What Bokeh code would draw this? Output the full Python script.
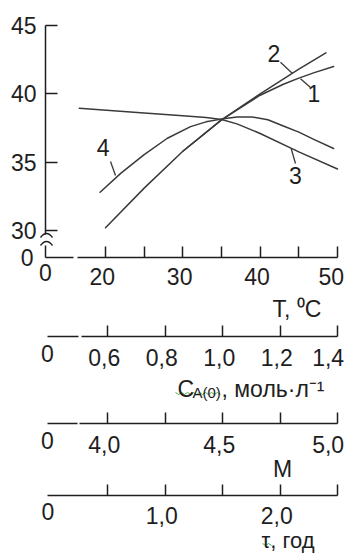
from bokeh.plotting import figure
from bokeh.models import Range1d, LinearAxis, FixedTicker, Label
from bokeh.embed import file_html
from bokeh.resources import INLINE

# ---------------- data ----------------
T_curve1 = [30, 35, 40, 43, 45, 47, 49.5]
Y_curve1 = [35.8, 38.1, 39.9, 40.7, 41.15, 41.55, 42.0]
T_curve2 = [20, 25, 30, 35, 40, 45, 48.5]
Y_curve2 = [30.2, 33.1, 35.8, 38.1, 40.0, 41.8, 43.0]
T_curve3 = [16.6, 25, 30, 33, 35, 37, 40, 45, 50]
Y_curve3 = [38.95, 38.6, 38.4, 38.27, 38.12, 37.8, 37.1, 35.75, 34.5]
T_curve4 = [19.3, 22, 25, 28, 31, 33, 35, 37, 39, 41, 43, 45, 47, 49.5]
Y_curve4 = [32.8, 34.2, 35.55, 36.75, 37.6, 37.95, 38.15, 38.3, 38.3, 38.1, 37.65, 37.2, 36.65, 36.0]
curve_names = ["1", "2", "3", "4"]

y_ticks = [30, 35, 40, 45]
T_ticks = [20, 30, 40, 50]
T_minor = [25, 35, 45]
T_labels = ["20", "30", "40", "50"]
C_ticks = [0.6, 0.8, 1.0, 1.2, 1.4]
C_labels = ["0,6", "0,8", "1,0", "1,2", "1,4"]
M_ticks = [4.0, 4.5, 5.0]
M_minor = [4.25, 4.75]
M_labels = ["4,0", "4,5", "5,0"]
tau_ticks = [1.0, 2.0]
tau_minor = [0.5, 1.5, 2.5]
tau_labels = ["1,0", "2,0"]

# ---------------- layout helpers (page pixels -> data) ----------------
FONT = "Liberation Sans"
FS = "23px"
INK = "#1e1e1e"
CURVE = "#3a3a3a"
NB = "\u00a0"


def T_of(px):
    return 20 + (px - 105) * 30 / (337 - 105)


def Y_of(py):
    return 45 - (py - 25) * 15 / (230 - 25)


def C_of(px):
    return 1.4 - (337 - px) * 0.8 / (337 - 107)


def M_of(px):
    return 5.0 - (337 - px) * 1.0 / (337 - 107)


def tau_of(px):
    return 2.5 - (337 - px) * 2.0 / (337 - 107)


W, H = 350, 554
FL, FR, FT, FB = 0, W, 0, H

p = figure(width=W, height=H,
           x_range=Range1d(T_of(FL), T_of(FR)), y_range=Range1d(Y_of(FB), Y_of(FT)),
           x_axis_location=None, y_axis_location=None,
           toolbar_location=None, output_backend="svg",
           min_border_left=0, min_border_right=0, min_border_top=0, min_border_bottom=0)
p.outline_line_color = None
p.grid.grid_line_color = None
p.background_fill_color = "white"
p.extra_x_ranges = {"c": Range1d(C_of(FL), C_of(FR)),
                    "m": Range1d(M_of(FL), M_of(FR)),
                    "tau": Range1d(tau_of(FL), tau_of(FR))}


def axis(ticks, minor=None, overrides=None, fixed=None, bounds=None,
         range_name="default", standoff=8, tick_len=11):
    ax = LinearAxis(fixed_location=fixed, bounds=bounds,
                    ticker=FixedTicker(ticks=ticks, minor_ticks=minor or []))
    ax.x_range_name = range_name
    ax.axis_line_color = INK
    ax.axis_line_width = 1.5
    ax.major_tick_in = tick_len
    ax.major_tick_out = 0
    ax.minor_tick_in = tick_len
    ax.minor_tick_out = 0
    ax.major_tick_line_color = INK
    ax.minor_tick_line_color = INK
    ax.major_tick_line_width = 1.5
    ax.minor_tick_line_width = 1.5
    ax.major_label_text_font = FONT
    ax.major_label_text_font_size = FS
    ax.major_label_text_color = INK
    ax.major_label_standoff = standoff
    if overrides:
        ax.major_label_overrides = overrides
    return ax


def ov(ticks, labels):
    return {t: l + NB for t, l in zip(ticks, labels)}


# y axis (with break)
ya = axis(y_ticks, fixed=T_of(45), bounds=(Y_of(234), 45), standoff=9, tick_len=12)
p.add_layout(ya, "left")
p.add_layout(axis([], fixed=T_of(45), bounds=(Y_of(257), Y_of(245))), "left")

# T axis
ta = axis(T_ticks, T_minor, overrides=ov(T_ticks, T_labels), fixed=Y_of(257),
          bounds=(T_of(77), 50), standoff=6)
p.add_layout(ta, "below")
p.add_layout(axis([], fixed=Y_of(257), bounds=(T_of(45), T_of(73))), "below")

# C_A(0) axis
ca = axis(C_ticks, overrides=ov(C_ticks, C_labels), fixed=Y_of(336),
          bounds=(C_of(81), 1.4), range_name="c", standoff=8)
p.add_layout(ca, "below")
p.add_layout(axis([], fixed=Y_of(336), bounds=(C_of(47), C_of(78)), range_name="c"), "below")

# M axis
ma = axis(M_ticks, M_minor, overrides=ov(M_ticks, M_labels), fixed=Y_of(423),
          bounds=(M_of(79), 5.0), range_name="m", standoff=8)
p.add_layout(ma, "below")
p.add_layout(axis([], fixed=Y_of(423), bounds=(M_of(47), M_of(77)), range_name="m"), "below")

# tau axis
tau_ax = axis(tau_ticks, tau_minor, overrides=ov(tau_ticks, tau_labels), fixed=Y_of(495),
              bounds=(tau_of(47), 2.5), range_name="tau", standoff=7)
p.add_layout(tau_ax, "below")

# ---------------- curves ----------------
for xs, ys in [(T_curve1, Y_curve1), (T_curve2, Y_curve2), (T_curve3, Y_curve3), (T_curve4, Y_curve4)]:
    p.line(xs, ys, line_color=CURVE, line_width=1.5, line_join="round", line_cap="round")

# leader lines for curve numbers (page px)
lead_x0 = [300, 280, 290.7, 110]
lead_y0 = [78.3, 61.7, 148.3, 161]
lead_x1 = [310, 291.7, 295, 115]
lead_y1 = [87, 72.7, 163, 175]
p.segment([T_of(v) for v in lead_x0], [Y_of(v) for v in lead_y0],
          [T_of(v) for v in lead_x1], [Y_of(v) for v in lead_y1],
          line_color=CURVE, line_width=1.3)
name_px = [313.3, 273.3, 295, 102.7]
name_py = [93.3, 53.3, 175, 146.7]
for t, px, py in zip(curve_names, name_px, name_py):
    p.add_layout(Label(x=T_of(px), y=Y_of(py), text=t, text_align="center", text_baseline="middle",
                       text_font=FONT, text_font_size=FS, text_color=INK))

# axis break marks on the y axis
p.quadratic([T_of(40), T_of(40)], [Y_of(237), Y_of(245)], [T_of(52), T_of(52)], [Y_of(237), Y_of(245)],
            [T_of(46), T_of(46)], [Y_of(229), Y_of(237)], line_color=INK, line_width=1.3)

# spell-check style squiggles under "CA(0)" and "τ"
sq1_x = [175 + 3 * i for i in range(16)]
sq1_y = [392 + (2 if i % 2 else 0) for i in range(16)]
sq2_x = [262 + 3 * i for i in range(4)]
sq2_y = [543 + (2 if i % 2 else 0) for i in range(4)]
for xs, ys in [(sq1_x, sq1_y), (sq2_x, sq2_y)]:
    p.line([T_of(v) for v in xs], [Y_of(v) for v in ys], line_color="#4caf50", line_width=1)


def lab(text, x, y, align="left", baseline="alphabetic", size=FS, x_offset=0, y_offset=0,
        range_name="default"):
    p.add_layout(Label(x=x, y=y, text=text, text_align=align, text_baseline=baseline,
                       x_offset=x_offset, y_offset=y_offset, x_range_name=range_name,
                       text_font=FONT, text_font_size=size, text_color=INK))


# origin "0" labels at the axis breaks
lab("0", T_of(45), Y_of(257), align="right", baseline="middle", x_offset=-12)
lab("0", T_of(45), Y_of(257), align="center", baseline="top", y_offset=-6)
lab("0", T_of(47), Y_of(336), align="center", baseline="top", y_offset=-8)
lab("0", T_of(47), Y_of(423), align="center", baseline="top", y_offset=-8)
lab("0", 0, Y_of(495), align="center", baseline="top", y_offset=-7, x_offset=-2, range_name="tau")

# axis titles
lab("T, \u2070C", T_of(272), Y_of(308))
lab("C", T_of(177), Y_of(388))
lab("A(0)", T_of(192), Y_of(392), size="15px")
lab(", моль·л\u207b\u00b9", T_of(221), Y_of(388))
lab("M", T_of(282), Y_of(468), align="center")
lab("τ, год", T_of(261), Y_of(540), size="22px")

open("out.html", "w").write(file_html(p, INLINE))
